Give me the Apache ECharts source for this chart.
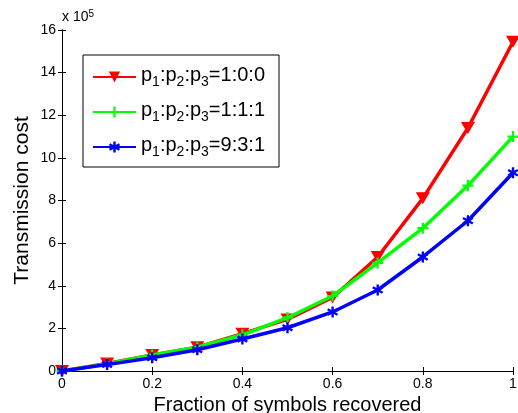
<!DOCTYPE html>
<html><head><meta charset="utf-8">
<script src="https://cdn.jsdelivr.net/npm/echarts@6/dist/echarts.min.js"></script>
<style>html,body{margin:0;padding:0;background:#fff}#c{width:518px;height:413px}</style>
</head><body><div id="c"></div>
<script>
const xValues = [0, 0.1, 0.2, 0.3, 0.4, 0.5, 0.6, 0.7, 0.8, 0.9, 1.0];
const seriesNames = ['p1:p2:p3=1:0:0', 'p1:p2:p3=1:1:1', 'p1:p2:p3=9:3:1'];
const ratioLabels = ['1:0:0', '1:1:1', '9:3:1'];
const red100 = [0, 0.35, 0.75, 1.12, 1.75, 2.42, 3.45, 5.35, 8.1, 11.4, 15.45];
const green111 = [0, 0.33, 0.75, 1.12, 1.7, 2.5, 3.52, 5.07, 6.7, 8.7, 11.0];
const blue931 = [0, 0.3, 0.62, 1.0, 1.5, 2.03, 2.77, 3.8, 5.35, 7.05, 9.3];
const xTicks = ['0', '0.2', '0.4', '0.6', '0.8', '1'];
const yTicks = [0, 2, 4, 6, 8, 10, 12, 14, 16];

const plusPath = 'path://M4,0H6V4H10V6H6V10H4V6H0V4H4Z';
const starPath = 'path://M4,0H6V3.2L8.6,1.6L9.6,3.4L7,5L9.6,6.6L8.6,8.4L6,6.8V10H4V6.8L1.4,8.4L0.4,6.6L3,5L0.4,3.4L1.4,1.6L4,3.2Z';

const font = 'Liberation Sans, Arial, sans-serif';
function pairs(ys){ return xValues.map((x,i)=>[x, ys[i]]); }

const chart = echarts.init(document.getElementById('c'));
const lineW = 3.5;
chart.setOption({
  animation: false,
  backgroundColor: '#fff',
  grid: {left: 62, right: 5, top: 30, bottom: 42, show: false, containLabel: false, outerBoundsMode: 'none'},
  xAxis: [{
    type: 'value', min: 0, max: 1, interval: 0.2,
    axisLine: {show: true, lineStyle: {color: '#000', width: 1}},
    axisTick: {inside: true, length: 4, lineStyle: {color: '#000'}},
    splitLine: {show: false},
    axisLabel: {color: '#000', fontSize: 14, fontFamily: font, margin: 6,
      formatter: v => { const s = xTicks.find(t => Math.abs(parseFloat(t) - v) < 1e-6); return s === undefined ? '' : s; }},
    name: 'Fraction of symbols recovered', nameLocation: 'middle', nameGap: 21,
    nameTextStyle: {color: '#000', fontSize: 20, fontFamily: font}
  }, {
    type: 'value', min: 0, max: 1, interval: 0.2, position: 'top',
    axisLine: {show: true, lineStyle: {color: '#000', width: 1}},
    axisTick: {inside: true, length: 4, lineStyle: {color: '#000'}},
    axisLabel: {show: false}, splitLine: {show: false}
  }],
  yAxis: [{
    type: 'value', min: 0, max: 16, interval: 2,
    axisLine: {show: true, lineStyle: {color: '#000', width: 1}},
    axisTick: {inside: true, length: 4, lineStyle: {color: '#000'}},
    splitLine: {show: false},
    axisLabel: {color: '#000', fontSize: 14, fontFamily: font, margin: 6,
      formatter: v => yTicks.includes(v) ? String(v) : ''},
    name: 'Transmission cost', nameLocation: 'middle', nameGap: 29, nameRotate: 90,
    nameMoveOverlap: false,
    nameTextStyle: {color: '#000', fontSize: 21, fontFamily: font}
  }, {
    type: 'value', min: 0, max: 16, interval: 2, position: 'right',
    axisLine: {show: true, lineStyle: {color: '#000', width: 1}},
    axisTick: {inside: true, length: 4, lineStyle: {color: '#000'}},
    axisLabel: {show: false}, splitLine: {show: false}
  }],
  legend: {
    orient: 'vertical', left: 83, top: 55,
    backgroundColor: '#fff', borderColor: '#000', borderWidth: 1,
    padding: [10, 14, 8, 9], itemGap: 11, itemWidth: 43, itemHeight: 14,
    data: seriesNames,
    formatter: name => {
      const r = ratioLabels[seriesNames.indexOf(name)];
      return '{m|p}{s|1}{m|:p}{s|2}{m|:p}{s|3}{m|=' + r + '}';
    },
    textStyle: {
      color: '#000', fontFamily: font, fontSize: 20,
      rich: {
        m: {fontSize: 20, fontFamily: font, color: '#000', lineHeight: 24, verticalAlign: 'top'},
        s: {fontSize: 14, fontFamily: font, color: '#000', lineHeight: 24, verticalAlign: 'bottom', padding: [10,0,0,0]}
      }
    }
  },
  graphic: [{
    type: 'text', left: 62, top: 9,
    style: {text: 'x 10{e|5}', fill: '#000', font: '14px ' + font,
      rich: {e: {fontSize: 10, fontFamily: font, verticalAlign: 'top', padding: [0,0,6,0]}}}
  }],
  series: [{
    name: seriesNames[0], type: 'line', data: pairs(red100),
    color: '#ff0000', lineStyle: {width: lineW, color: '#ff0000'},
    symbol: 'triangle', symbolRotate: 180, symbolSize: [14, 12],
    itemStyle: {color: '#ff0000'}, z: 3
  }, {
    name: seriesNames[1], type: 'line', data: pairs(green111),
    color: '#00ff00', lineStyle: {width: lineW, color: '#00ff00'},
    symbol: plusPath, symbolSize: 11,
    itemStyle: {color: '#00ff00'}, z: 4
  }, {
    name: seriesNames[2], type: 'line', data: pairs(blue931),
    color: '#0000ff', lineStyle: {width: lineW, color: '#0000ff'},
    symbol: starPath, symbolSize: 11,
    itemStyle: {color: '#0000ff'}, z: 5
  }]
});
</script></body></html>
